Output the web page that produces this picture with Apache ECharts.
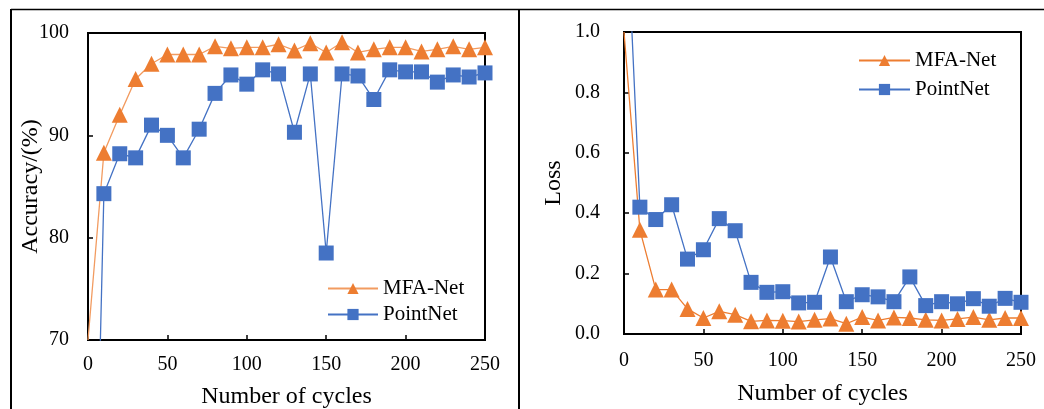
<!DOCTYPE html>
<html>
<head>
<meta charset="utf-8">
<script src="https://cdn.jsdelivr.net/npm/echarts@6/dist/echarts.min.js"></script>
<style>
html,body{margin:0;padding:0;background:#fff;}
#c{width:1044px;height:409px;}
</style>
</head>
<body>
<div id="c"></div>
<script>
const cycles = [0,10,20,30,40,50,60,70,80,90,100,110,120,130,140,150,160,170,180,190,200,210,220,230,240,250];
const accMFA = [70, 88.3, 92.0, 95.5, 97.0, 97.9, 97.9, 97.9, 98.7, 98.5, 98.6, 98.6, 98.9, 98.3, 99.0, 98.1, 99.1, 98.1, 98.4, 98.6, 98.6, 98.2, 98.4, 98.7, 98.4, 98.6];
const accPoint = [19.3, 84.3, 88.2, 87.8, 91.0, 90.0, 87.8, 90.6, 94.1, 95.9, 95.0, 96.4, 96.0, 90.3, 96.0, 78.5, 96.0, 95.8, 93.5, 96.4, 96.2, 96.2, 95.2, 95.9, 95.7, 96.1];
const lossMFA = [1.0, 0.345, 0.147, 0.147, 0.083, 0.053, 0.075, 0.064, 0.042, 0.045, 0.044, 0.041, 0.047, 0.051, 0.034, 0.056, 0.045, 0.055, 0.053, 0.047, 0.045, 0.050, 0.056, 0.047, 0.053, 0.053];
const lossPoint = [1.58, 0.42, 0.379, 0.428, 0.248, 0.279, 0.382, 0.342, 0.171, 0.138, 0.140, 0.103, 0.105, 0.255, 0.107, 0.130, 0.123, 0.107, 0.189, 0.094, 0.107, 0.100, 0.117, 0.092, 0.118, 0.105];
const seriesNames = ['MFA-Net', 'PointNet'];
const xTitle = 'Number of cycles';
const accTitle = 'Accuracy/(%)';
const lossTitle = 'Loss';

const FONT = 'Liberation Serif';
const ORANGE = '#ED7D31';
const ORANGE_LIGHT = '#F29B60';
const BLUE = '#4472C4';

function pts(vals) {
  return cycles.map((c, i) => i === 0 ? { value: [c, vals[i]], symbol: 'none' } : [c, vals[i]]);
}

function xAxis(gridIndex, gap, margin) {
  return {
    type: 'value', gridIndex, min: 0, max: 250, interval: 50,
    name: xTitle, nameLocation: 'middle', nameGap: gap, nameMoveOverlap: false,
    nameTextStyle: { fontFamily: FONT, fontSize: 24, color: '#000' },
    axisLine: { show: true, lineStyle: { color: '#000', width: 2 } },
    axisTick: { show: true, inside: true, length: 5, lineStyle: { color: '#000', width: 1.5 } },
    axisLabel: { fontFamily: FONT, fontSize: 20, color: '#000', margin },
    splitLine: { show: false }
  };
}

function yAxis(gridIndex, min, max, interval, name, gap, margin, fmt) {
  return {
    type: 'value', gridIndex, min, max, interval,
    name, nameLocation: 'middle', nameGap: gap, nameMoveOverlap: false,
    nameTextStyle: { fontFamily: FONT, fontSize: 24, color: '#000' },
    axisLine: { show: true, lineStyle: { color: '#000', width: 2 } },
    axisTick: { show: true, inside: true, length: 5, lineStyle: { color: '#000', width: 1.5 } },
    axisLabel: { fontFamily: FONT, fontSize: 20, color: '#000', margin, formatter: fmt },
    splitLine: { show: false }
  };
}

function line(name, xi, vals, color, lineColor, symbol, size) {
  return {
    name, type: 'line', xAxisIndex: xi, yAxisIndex: xi,
    data: pts(vals), symbol, symbolSize: size, clip: true,
    lineStyle: { color: lineColor, width: 1.3 },
    itemStyle: { color: color },
    emphasis: { disabled: true }
  };
}

const chart = echarts.init(document.getElementById('c'), null, { renderer: 'canvas' });
chart.setOption({
  animation: false,
  backgroundColor: '#fff',
  grid: [
    { left: 88, top: 33, width: 397, height: 307, outerBoundsMode: 'none', containLabel: false, show: true, borderColor: '#000', borderWidth: 2, backgroundColor: 'transparent' },
    { left: 624, top: 32, width: 397, height: 302, outerBoundsMode: 'none', containLabel: false, show: true, borderColor: '#000', borderWidth: 2, backgroundColor: 'transparent' }
  ],
  xAxis: [xAxis(0, 45, 15), xAxis(1, 48, 17)],
  yAxis: [
    yAxis(0, 70, 100, 10, accTitle, 45, 19, v => String(v)),
    yAxis(1, 0, 1, 0.2, lossTitle, 58, 24, v => v.toFixed(1))
  ],
  legend: [
    {
      left: 327, top: 278, orient: 'vertical', padding: 0, itemWidth: 50, itemHeight: 14, itemGap: 5,
      textStyle: { fontFamily: FONT, fontSize: 21, color: '#000' },
      data: [
        { name: seriesNames[0], lineStyle: { color: ORANGE_LIGHT } },
        { name: seriesNames[1] }
      ]
    },
    {
      left: 858, top: 50, orient: 'vertical', padding: 0, itemWidth: 51, itemHeight: 14, itemGap: 8,
      textStyle: { fontFamily: FONT, fontSize: 21, color: '#000' },
      data: [
        { name: seriesNames[0], lineStyle: { color: ORANGE } },
        { name: seriesNames[1] }
      ]
    }
  ],
  series: [
    line(seriesNames[0], 0, accMFA, ORANGE, ORANGE_LIGHT, 'triangle', 16),
    line(seriesNames[1], 0, accPoint, BLUE, BLUE, 'rect', 15),
    line(seriesNames[0], 1, lossMFA, ORANGE, ORANGE, 'triangle', 16),
    line(seriesNames[1], 1, lossPoint, BLUE, BLUE, 'rect', 15)
  ],
  graphic: [
    { type: 'line', shape: { x1: 11, y1: 9.5, x2: 1044, y2: 9.5 }, style: { stroke: '#000', lineWidth: 1.5 }, silent: true },
    { type: 'line', shape: { x1: 11, y1: 9, x2: 11, y2: 409 }, style: { stroke: '#000', lineWidth: 2 }, silent: true },
    { type: 'line', shape: { x1: 519, y1: 9, x2: 519, y2: 409 }, style: { stroke: '#000', lineWidth: 2 }, silent: true }
  ]
});
</script>
</body>
</html>
